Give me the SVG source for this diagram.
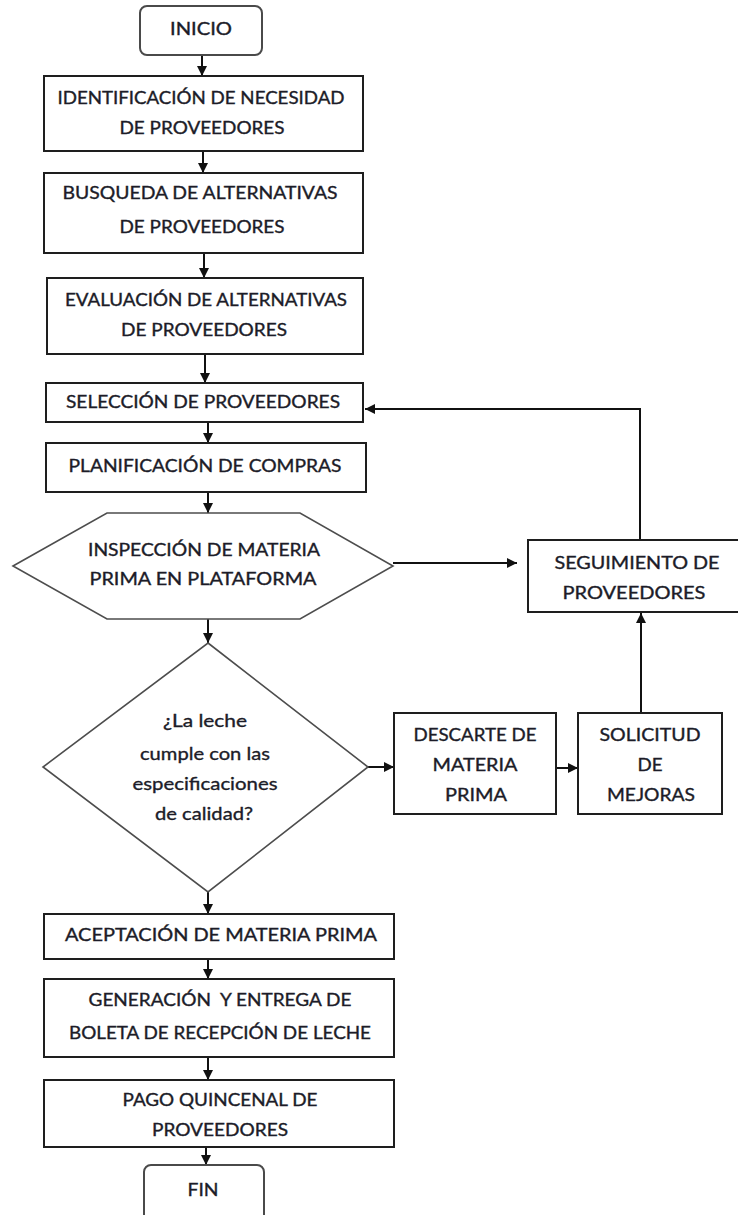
<svg xmlns="http://www.w3.org/2000/svg" width="738" height="1215" viewBox="0 0 738 1215">
  <style>
    .box { fill: #ffffff; stroke: #1e1e1e; stroke-width: 2; }
    .term { fill: #ffffff; stroke: #4a4a4a; stroke-width: 2; }
    .shape { fill: #ffffff; stroke: #4d4d4d; stroke-width: 1.6; }
    .lbl { font-family: Lato, "Liberation Sans", sans-serif; font-size: 17px; fill: #1c1c28; stroke: #1c1c28; stroke-width: 0.35; text-anchor: middle; }
    .lc { font-size: 18px; }
    .edge { fill: none; stroke: #111111; stroke-width: 2; }
  </style>
  <defs>
    <marker id="arrow" markerUnits="userSpaceOnUse" markerWidth="10" markerHeight="10" refX="10" refY="5" orient="auto">
      <path d="M0,0 L10,5 L0,10 z" fill="#111111"/>
    </marker>
  </defs>
  <rect width="738" height="1215" fill="#ffffff"/>

  <g id="connectors">
    <line class="edge" x1="202" y1="55" x2="202" y2="76" marker-end="url(#arrow)"/>
    <line class="edge" x1="203" y1="151" x2="203" y2="173" marker-end="url(#arrow)"/>
    <line class="edge" x1="204" y1="253" x2="204" y2="278" marker-end="url(#arrow)"/>
    <line class="edge" x1="205" y1="354" x2="205" y2="383" marker-end="url(#arrow)"/>
    <line class="edge" x1="208" y1="422" x2="208" y2="443" marker-end="url(#arrow)"/>
    <line class="edge" x1="208" y1="492" x2="208" y2="513" marker-end="url(#arrow)"/>
    <line class="edge" x1="208" y1="619" x2="208" y2="643" marker-end="url(#arrow)"/>
    <line class="edge" x1="208" y1="892" x2="208" y2="914" marker-end="url(#arrow)"/>
    <line class="edge" x1="208" y1="959" x2="208" y2="979" marker-end="url(#arrow)"/>
    <line class="edge" x1="208" y1="1057" x2="208" y2="1080" marker-end="url(#arrow)"/>
    <line class="edge" x1="206" y1="1147" x2="206" y2="1165" marker-end="url(#arrow)"/>
    <line class="edge" x1="393" y1="563" x2="517" y2="563" marker-end="url(#arrow)"/>
    <polyline class="edge" points="640,540 640,409 365,409" marker-end="url(#arrow)"/>
    <line class="edge" x1="368" y1="767" x2="394" y2="767" marker-end="url(#arrow)"/>
    <line class="edge" x1="556" y1="768" x2="578" y2="768" marker-end="url(#arrow)"/>
    <line class="edge" x1="641" y1="713" x2="641" y2="613" marker-end="url(#arrow)"/>
  </g>

  <g id="inicio">
    <rect class="term" x="140" y="6" width="122" height="49" rx="7"/>
    <text class="lbl" x="201" y="35" textLength="62" lengthAdjust="spacingAndGlyphs">INICIO</text>
  </g>

  <g id="identificacion">
    <rect class="box" x="44" y="76" width="319" height="75"/>
    <text class="lbl" x="201" y="104" textLength="287" lengthAdjust="spacingAndGlyphs">IDENTIFICACIÓN DE NECESIDAD</text>
    <text class="lbl" x="202" y="134" textLength="165" lengthAdjust="spacingAndGlyphs">DE PROVEEDORES</text>
  </g>

  <g id="busqueda">
    <rect class="box" x="44" y="173" width="319" height="80"/>
    <text class="lbl" x="200" y="199" textLength="275" lengthAdjust="spacingAndGlyphs">BUSQUEDA DE ALTERNATIVAS</text>
    <text class="lbl" x="202" y="233" textLength="165" lengthAdjust="spacingAndGlyphs">DE PROVEEDORES</text>
  </g>

  <g id="evaluacion">
    <rect class="box" x="47" y="278" width="316" height="76"/>
    <text class="lbl" x="206" y="306" textLength="282" lengthAdjust="spacingAndGlyphs">EVALUACIÓN DE ALTERNATIVAS</text>
    <text class="lbl" x="204" y="336" textLength="166" lengthAdjust="spacingAndGlyphs">DE PROVEEDORES</text>
  </g>

  <g id="seleccion">
    <rect class="box" x="46" y="383" width="317" height="39"/>
    <text class="lbl" x="203" y="408" textLength="274" lengthAdjust="spacingAndGlyphs">SELECCIÓN DE PROVEEDORES</text>
  </g>

  <g id="planificacion">
    <rect class="box" x="46" y="443" width="320" height="49"/>
    <text class="lbl" x="205" y="472" textLength="273" lengthAdjust="spacingAndGlyphs">PLANIFICACIÓN DE COMPRAS</text>
  </g>

  <g id="inspeccion">
    <polygon class="shape" points="13,566 107,513 300,513 393,566 300,619 107,619"/>
    <text class="lbl" x="204" y="556" textLength="232" lengthAdjust="spacingAndGlyphs">INSPECCIÓN DE MATERIA</text>
    <text class="lbl" x="203" y="585" textLength="227" lengthAdjust="spacingAndGlyphs">PRIMA EN PLATAFORMA</text>
  </g>

  <g id="seguimiento">
    <rect class="box" x="528" y="540" width="218" height="72"/>
    <text class="lbl" x="637" y="569" textLength="165" lengthAdjust="spacingAndGlyphs">SEGUIMIENTO DE</text>
    <text class="lbl" x="634" y="599" textLength="143" lengthAdjust="spacingAndGlyphs">PROVEEDORES</text>
  </g>

  <g id="decision">
    <polygon class="shape" points="208,643 368,767 208,892 43,767"/>
    <text class="lbl lc" x="205" y="727" textLength="84" lengthAdjust="spacingAndGlyphs">¿La leche</text>
    <text class="lbl lc" x="205" y="760" textLength="130" lengthAdjust="spacingAndGlyphs">cumple con las</text>
    <text class="lbl lc" x="205" y="790" textLength="145" lengthAdjust="spacingAndGlyphs">especificaciones</text>
    <text class="lbl lc" x="204" y="820" textLength="98" lengthAdjust="spacingAndGlyphs">de calidad?</text>
  </g>

  <g id="descarte">
    <rect class="box" x="394" y="713" width="162" height="101"/>
    <text class="lbl" x="475" y="741" textLength="123" lengthAdjust="spacingAndGlyphs">DESCARTE DE</text>
    <text class="lbl" x="475" y="771" textLength="85" lengthAdjust="spacingAndGlyphs">MATERIA</text>
    <text class="lbl" x="476" y="801" textLength="62" lengthAdjust="spacingAndGlyphs">PRIMA</text>
  </g>

  <g id="solicitud">
    <rect class="box" x="578" y="713" width="144" height="101"/>
    <text class="lbl" x="650" y="741" textLength="101" lengthAdjust="spacingAndGlyphs">SOLICITUD</text>
    <text class="lbl" x="650" y="771" textLength="25" lengthAdjust="spacingAndGlyphs">DE</text>
    <text class="lbl" x="651" y="801" textLength="88" lengthAdjust="spacingAndGlyphs">MEJORAS</text>
  </g>

  <g id="aceptacion">
    <rect class="box" x="44" y="914" width="350" height="45"/>
    <text class="lbl" x="221" y="941" textLength="312" lengthAdjust="spacingAndGlyphs">ACEPTACIÓN DE MATERIA PRIMA</text>
  </g>

  <g id="generacion">
    <rect class="box" x="44" y="979" width="350" height="78"/>
    <text class="lbl" x="220" y="1006" textLength="263" lengthAdjust="spacingAndGlyphs" xml:space="preserve">GENERACIÓN  Y ENTREGA DE</text>
    <text class="lbl" x="220" y="1039" textLength="302" lengthAdjust="spacingAndGlyphs">BOLETA DE RECEPCIÓN DE LECHE</text>
  </g>

  <g id="pago">
    <rect class="box" x="44" y="1080" width="350" height="67"/>
    <text class="lbl" x="220" y="1106" textLength="195" lengthAdjust="spacingAndGlyphs">PAGO QUINCENAL DE</text>
    <text class="lbl" x="220" y="1136" textLength="136" lengthAdjust="spacingAndGlyphs">PROVEEDORES</text>
  </g>

  <g id="fin">
    <rect class="term" x="144" y="1165" width="120" height="60" rx="7"/>
    <text class="lbl" x="203" y="1196" textLength="31" lengthAdjust="spacingAndGlyphs">FIN</text>
  </g>
</svg>
